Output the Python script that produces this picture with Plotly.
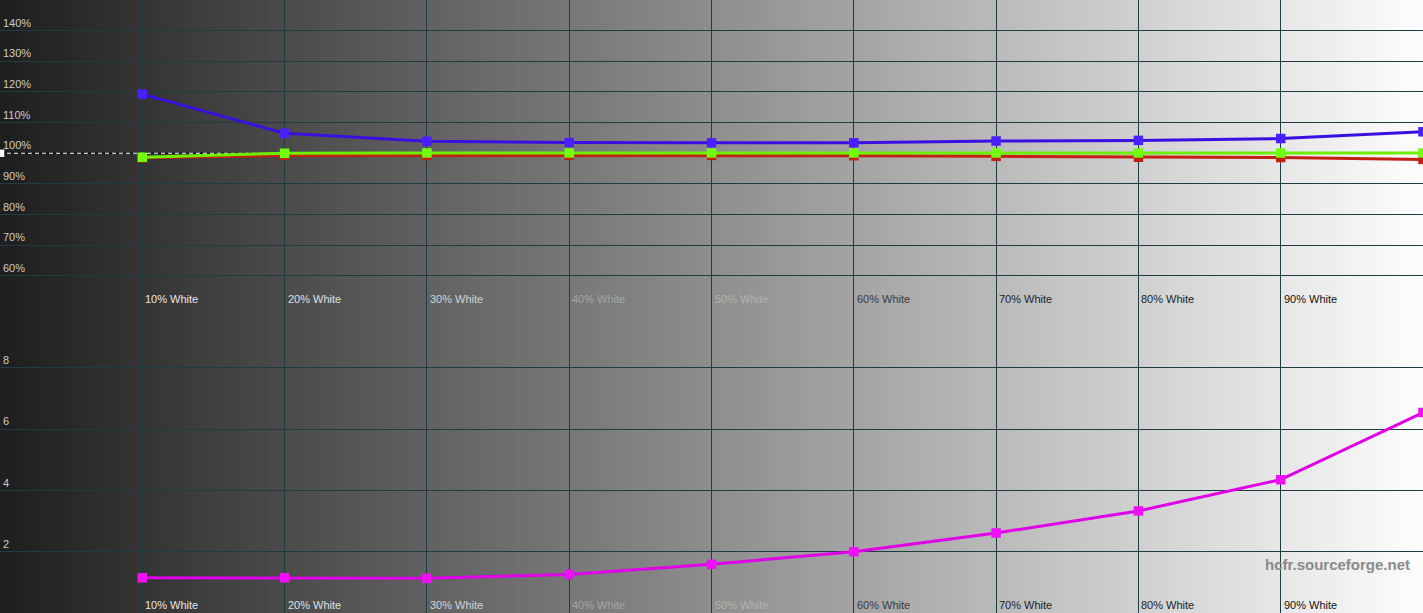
import plotly.graph_objects as go
from plotly.subplots import make_subplots

# ---- data ----
levels = [10, 20, 30, 40, 50, 60, 70, 80, 90, 100]
level_labels = ["10% White", "20% White", "30% White", "40% White", "50% White",
                "60% White", "70% White", "80% White", "90% White"]
red = [98.5, 99.3, 99.3, 99.3, 99.3, 99.2, 99.0, 98.7, 98.6, 98.0]
green = [98.7, 100.0, 100.1, 100.1, 100.1, 100.1, 100.1, 100.1, 100.1, 100.1]
blue = [119.3, 106.5, 103.9, 103.5, 103.4, 103.4, 104.0, 104.2, 104.8, 107.0]
delta_e = [1.15, 1.15, 1.13, 1.26, 1.59, 2.0, 2.61, 3.33, 4.35, 6.54]
pct_ticks = [60, 70, 80, 90, 100, 110, 120, 130, 140]
de_ticks = [2, 4, 6, 8]

W, H = 1423, 613
label_colors = ["#e6e6e6", "#e0e0e0", "#d4d4d4", "#a6a6a6", "#b2b2b2",
                "#3a3a3a", "#222222", "#222222", "#111111"]

fig = make_subplots(rows=2, cols=1, shared_xaxes=False, vertical_spacing=0.0)

grid_col = "#1e3c44"

def add_line(row, y, color, mcolor):
    fig.add_trace(go.Scatter(x=levels, y=y, mode="lines+markers",
                             line=dict(color=color, width=3),
                             marker=dict(symbol="square", size=9.5, color=mcolor),
                             showlegend=False, hoverinfo="skip"), row=row, col=1)

# reference 100% line
fig.add_trace(go.Scatter(x=[0, 100], y=[100, 100], mode="lines",
                         line=dict(color="black", width=1), showlegend=False,
                         hoverinfo="skip"), row=1, col=1)
fig.add_trace(go.Scatter(x=[0, 100], y=[100, 100], mode="lines",
                         line=dict(color="white", width=1, dash="4px,3px"),
                         showlegend=False, hoverinfo="skip"), row=1, col=1)
add_line(1, red, "#c42010", "#c42010")
add_line(1, green, "#6cf000", "#70ff10")
add_line(1, blue, "#3a10e0", "#4a20ff")
add_line(2, delta_e, "#e000e8", "#f010f8")

# gradient background
shapes = []
N = 160
for i in range(N):
    t = (i + 0.5) / N
    v = int(round(30 + (253 - 30) * t))
    shapes.append(dict(type="rect", xref="paper", yref="paper",
                       x0=i / N, x1=(i + 1) / N + 0.001, y0=0, y1=1,
                       fillcolor=f"rgb({v},{v},{v})", line=dict(width=0),
                       layer="below"))
# small white marker at 100% on the left edge
shapes.append(dict(type="rect", xref="x", yref="y", x0=0, x1=0.3, y0=98.8, y1=101.2,
                   fillcolor="white", line=dict(width=0), layer="above"))
fig.update_layout(shapes=shapes)

axis_font = dict(family="Liberation Sans, Arial, sans-serif", size=11, color="#cccccc")

for r in (1, 2):
    fig.update_xaxes(range=[0, 100], tickvals=[0] + levels, showticklabels=False,
                     showgrid=True, gridcolor=grid_col, gridwidth=1, zeroline=False,
                     showline=False, ticks="", row=r, col=1)

fig.update_yaxes(range=[50, 150], tickvals=pct_ticks,
                 ticktext=[f"{v}%" for v in pct_ticks],
                 ticklabelposition="inside top", tickfont=axis_font,
                 showgrid=True, gridcolor=grid_col, gridwidth=1, zeroline=False,
                 ticks="", row=1, col=1)
fig.update_yaxes(range=[0, 10], tickvals=de_ticks,
                 ticktext=[str(v) for v in de_ticks],
                 ticklabelposition="inside top", tickfont=axis_font,
                 showgrid=True, gridcolor=grid_col, gridwidth=1, zeroline=False,
                 ticks="", row=2, col=1)

annotations = []
for yref in ("y domain", "y2 domain"):
    xref = "x" if yref == "y domain" else "x2"
    for lv, lab, col in zip(levels, level_labels, label_colors):
        annotations.append(dict(x=lv, y=0, xref=xref, yref=yref, text=lab,
                                showarrow=False, xanchor="left", yanchor="bottom",
                                xshift=1, yshift=0,
                                font=dict(family="Liberation Sans, Arial, sans-serif",
                                          size=11, color=col)))
annotations.append(dict(x=1, y=0, xref="paper", yref="paper",
                        text="<b>hcfr.sourceforge.net</b>", showarrow=False,
                        xanchor="right", yanchor="bottom", xshift=-11, yshift=38,
                        font=dict(family="Liberation Sans, Arial, sans-serif",
                                  size=15, color="#8a8a8a")))
fig.update_layout(annotations=annotations)

fig.update_layout(width=W, height=H, margin=dict(l=0, r=0, t=0, b=0),
                  paper_bgcolor="#1e1e1e", plot_bgcolor="rgba(0,0,0,0)",
                  showlegend=False)
fig.update_yaxes(domain=[0.5, 1.0], row=1, col=1)
fig.update_yaxes(domain=[0.0, 0.5], row=2, col=1)

fig.write_html("out.html", config={"displayModeBar": False},
               post_script="document.body.style.margin='0';"
                           "document.body.style.overflow='hidden';")
